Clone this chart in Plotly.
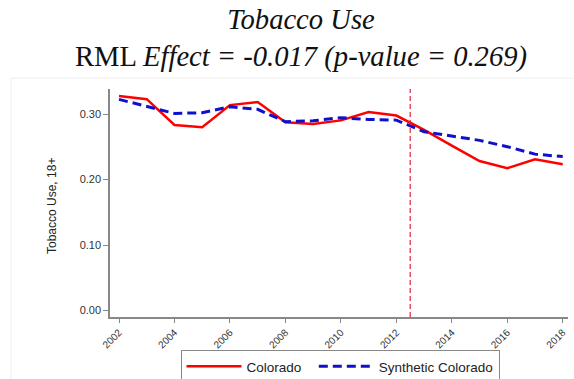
import plotly.graph_objects as go

years = list(range(2002, 2019))
colorado = [0.328, 0.323, 0.2835, 0.280, 0.314, 0.3186, 0.2876, 0.285, 0.2906,
            0.3034, 0.298, 0.276, 0.252, 0.2285, 0.2174, 0.231, 0.2235]
synthetic = [0.3227, 0.3125, 0.3013, 0.3023, 0.3115, 0.3075, 0.2886, 0.290, 0.2947,
             0.292, 0.291, 0.2733, 0.2667, 0.260, 0.2504, 0.239, 0.2352]
x_ticks = [2002, 2004, 2006, 2008, 2010, 2012, 2014, 2016, 2018]
y_ticks = [0.0, 0.1, 0.2, 0.3]
y_tick_labels = ["0.00", "0.10", "0.20", "0.30"]
treatment_year = 2012.5

fig = go.Figure()
fig.add_trace(go.Scatter(x=years, y=colorado, mode="lines", name="Colorado\u00a0\u00a0",
                         line=dict(color="#ff0000", width=2.5)))
fig.add_trace(go.Scatter(x=years, y=synthetic, mode="lines", name="Synthetic Colorado",
                         line=dict(color="#1010cc", width=3, dash="9px,5px")))

fig.add_shape(type="line", x0=treatment_year, x1=treatment_year, y0=0, y1=1,
              xref="x", yref="paper", line=dict(color="#e0203c", width=1.2, dash="5px,3px"))

# faint outer frame of the figure panel
fig.add_shape(type="rect", xref="paper", yref="paper",
              x0=(11 - 110) / 458, x1=(600 - 110) / 458,
              y0=(317 - 400) / 228, y1=(317 - 78) / 228,
              line=dict(color="#eeeeee", width=1), layer="below")

fig.add_annotation(text="Tobacco Use, 18+", textangle=-90, xref="paper", yref="paper",
                   x=(52 - 110) / 458, y=(317 - 206) / 228, xanchor="center", yanchor="middle",
                   showarrow=False,
                   font=dict(family="Liberation Sans Narrow, Liberation Sans, Arial", size=12, color="#222"))

fig.update_layout(
    width=574, height=379,
    margin=dict(l=110, r=6, t=89, b=62, autoexpand=False),
    paper_bgcolor="white", plot_bgcolor="white",
    title=dict(text="<i>Tobacco Use</i><br>RML <i>Effect = -0.017 (p-value = 0.269)</i>",
               x=301 / 574, xanchor="center", y=1 - 29 / 379, yanchor="bottom",
               font=dict(family="Liberation Serif, serif", size=28.6, color="#111")),
    xaxis=dict(range=[2001.675, 2018.19], tickvals=x_ticks, tickangle=-45, automargin=False,
               showgrid=False, zeroline=False, showline=True, linecolor="#888", linewidth=1.5,
               ticks="outside", ticklen=4, tickcolor="#888",
               tickfont=dict(family="Liberation Sans, Arial", size=10, color="#333")),
    yaxis=dict(range=[-0.0101, 0.3386], tickvals=y_ticks, ticktext=y_tick_labels, automargin=False,
               showgrid=False, zeroline=False, showline=True, linecolor="#888", linewidth=1.5,
               ticks="outside", ticklen=5, tickcolor="#888",
               tickfont=dict(family="Liberation Sans, Arial", size=11, color="#333")),
    legend=dict(orientation="h", x=(340 - 110) / 458, xanchor="center", y=(317 - 350) / 228, yanchor="top",
                bordercolor="#888", borderwidth=1, itemwidth=55, bgcolor="rgba(255,255,255,0)",
                font=dict(family="Liberation Sans, Arial", size=13.5, color="#222")),
    showlegend=True,
)

fig.write_html("out.html")
